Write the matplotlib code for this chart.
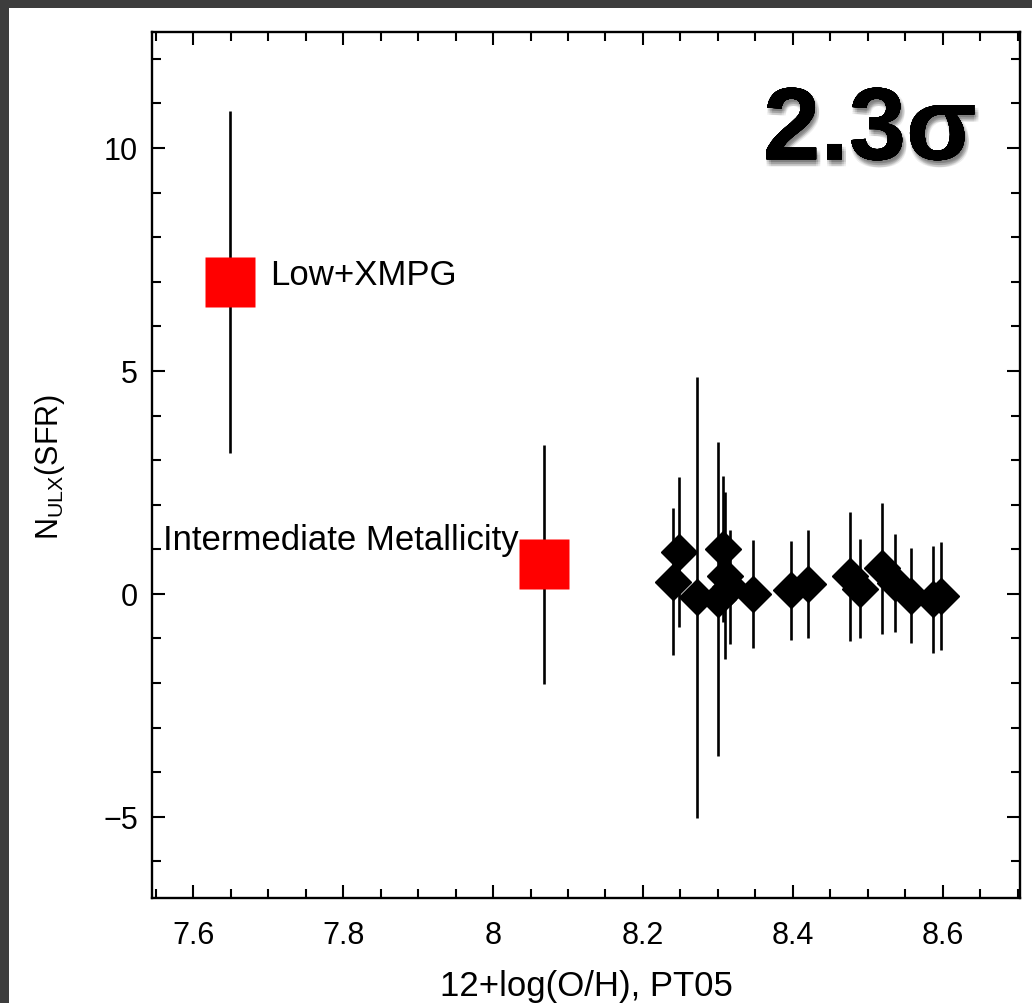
import matplotlib
matplotlib.use('Agg')
import matplotlib.pyplot as plt
import matplotlib.patheffects as pe
from matplotlib.patches import Rectangle
from matplotlib.ticker import MultipleLocator

plt.rcParams['font.family'] = ['Liberation Sans', 'DejaVu Sans']
plt.rcParams['mathtext.fontset'] = 'custom'
plt.rcParams['mathtext.rm'] = 'Liberation Sans'

# stacked bins (red squares)
bin_x = [7.649, 8.068]
bin_y = [7.00, 0.66]
bin_err = [3.83, 2.67]
bin_names = ['Low+XMPG', 'Intermediate Metallicity']

# individual galaxies (black diamonds)
gal_x = [8.240, 8.248, 8.272, 8.300, 8.307, 8.309, 8.316, 8.347, 8.398,
         8.420, 8.476, 8.489, 8.519, 8.536, 8.557, 8.587, 8.597]
gal_y = [0.27, 0.94, -0.08, -0.11, 1.01, 0.41, 0.15, -0.01, 0.08,
         0.22, 0.39, 0.12, 0.57, 0.25, -0.04, -0.12, -0.04]
gal_err = [1.65, 1.68, 4.95, 3.52, 1.64, 1.87, 1.28, 1.21, 1.11,
           1.21, 1.44, 1.10, 1.46, 1.10, 1.06, 1.20, 1.21]

xticks = [7.6, 7.8, 8.0, 8.2, 8.4, 8.6]
xticklabels = ['7.6', '7.8', '8', '8.2', '8.4', '8.6']
yticks = [-5, 0, 5, 10]

fig = plt.figure(figsize=(10.32, 10.04), dpi=100, facecolor='#3d3d3d')
panel = Rectangle((9 / 1032, 0), 1, 1 - 9 / 1004, transform=fig.transFigure,
                  facecolor='white', edgecolor='none')
panel.set_zorder(-10)
fig.add_artist(panel)

ax = fig.add_axes([152 / 1032, 1 - 899 / 1004, 868 / 1032, 866 / 1004])
ax.set_zorder(1)
ax.set_facecolor('white')

ax.errorbar(gal_x, gal_y, yerr=gal_err, fmt='none', ecolor='black', elinewidth=1.9,
            capsize=0, zorder=2)
ax.plot(gal_x, gal_y, linestyle='none', marker='D', markersize=18.5,
        color='black', zorder=3)

ax.errorbar(bin_x, bin_y, yerr=bin_err, fmt='none', ecolor='black', elinewidth=1.9,
            capsize=0, zorder=2)
ax.plot(bin_x, bin_y, linestyle='none', marker='s', markersize=36,
        markerfacecolor='#ff0000', markeredgecolor='none', zorder=4)

ax.text(7.702, 6.95, bin_names[0], fontsize=25, ha='left', va='baseline')
ax.text(7.56, 1.01, bin_names[1], fontsize=25, ha='left', va='baseline')

# soft drop shadow: several faint offset copies
shadow = []
for dx in (-1.5, 0, 1.5):
    for dy in (-1.5, 0, 1.5):
        shadow.append(pe.withSimplePatchShadow(offset=(1.5 + dx, -3.5 + dy),
                                               shadow_rgbFace='black', alpha=0.07))
ax.text(0.704, 0.853, '2.3\u03c3', transform=ax.transAxes, fontsize=74,
        fontweight='bold', ha='left', va='baseline',
        path_effects=shadow + [pe.Normal()])

ax.set_xlim(7.545, 8.703)
ax.set_ylim(-6.82, 12.6)
ax.set_xticks(xticks)
ax.set_xticklabels(xticklabels)
ax.set_yticks(yticks)
ax.xaxis.set_minor_locator(MultipleLocator(0.05))
ax.yaxis.set_minor_locator(MultipleLocator(1))

ax.tick_params(which='both', direction='in', top=True, right=True, width=1.5,
               labelsize=22, colors='black')
ax.tick_params(which='major', length=9.5)
ax.tick_params(which='minor', length=6.5)
ax.tick_params(axis='x', pad=16)
ax.tick_params(axis='y', pad=10)
for s in ax.spines.values():
    s.set_linewidth(1.7)

ax.set_xlabel('12+log(O/H), PT05', fontsize=25)
ax.xaxis.label.set_va('center')
ax.xaxis.set_label_coords(0.5, -0.101)
ax.set_ylabel(r'N$_{\mathrm{ULX}}$(SFR)', fontsize=22)
ax.yaxis.label.set_va('center')
ax.yaxis.set_label_coords(-0.1175, 0.499)

fig.savefig('out.png', dpi=100, facecolor=fig.get_facecolor())
